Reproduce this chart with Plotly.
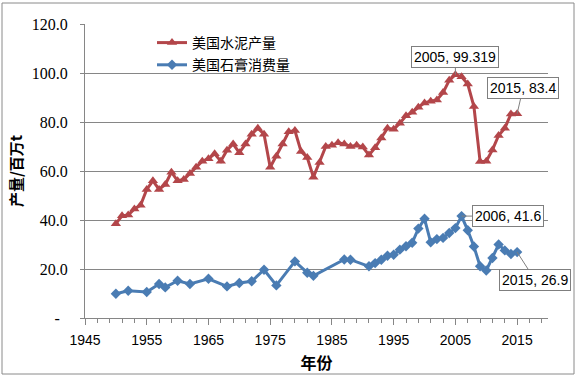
import plotly.graph_objects as go

cement_years = list(range(1950, 2016))
cement_values = [38.5, 41.7, 42.0, 44.5, 46.0, 52.5, 56.0, 52.5, 54.5, 59.5,
                 56.0, 56.5, 59.0, 61.5, 64.0, 65.0, 67.0, 64.0, 68.5, 71.0,
                 67.5, 71.0, 75.0, 77.5, 75.0, 61.5, 66.0, 71.0, 76.0, 76.5,
                 68.0, 65.5, 57.5, 63.5, 70.0, 70.5, 71.5, 71.0, 70.0, 70.5,
                 69.8, 66.5, 69.5, 73.5, 77.5, 77.0, 79.5, 82.5, 84.0, 86.0,
                 87.8, 88.5, 89.0, 92.0, 97.0, 99.319, 98.5, 95.5, 86.3, 63.9,
                 64.0, 68.6, 74.5, 77.5, 83.3, 83.4]

gypsum_years = [1950, 1952, 1955, 1957, 1958, 1960, 1962, 1965, 1968, 1970,
                1972, 1974, 1976, 1979, 1981, 1982, 1987, 1988, 1991, 1992,
                1993, 1994, 1995, 1996, 1997, 1998, 1999, 2000, 2001, 2002,
                2003, 2004, 2005, 2006, 2007, 2008, 2009, 2010, 2011, 2012,
                2013, 2014, 2015]
gypsum_values = [9.9, 11.1, 10.6, 13.9, 12.5, 15.2, 13.9, 16.0, 12.9, 14.3,
                 15.0, 19.7, 13.3, 23.1, 18.5, 17.2, 23.9, 23.8, 21.1, 22.4,
                 23.8, 25.4, 25.8, 27.9, 29.3, 30.7, 36.5, 40.5, 30.9, 32.2,
                 32.7, 34.7, 36.7, 41.6, 35.8, 29.2, 21.1, 19.4, 24.5, 30.0,
                 27.6, 26.1, 26.9]

ytick_vals = [0, 20, 40, 60, 80, 100, 120]
ytick_text = ["-  ", "20.0", "40.0", "60.0", "80.0", "100.0", "120.0"]
xtick_vals = [1945, 1955, 1965, 1975, 1985, 1995, 2005, 2015]

callouts = [
    (2005, 99.319, "2005, 99.319", 0, -18),
    (2015, 83.4, "2015, 83.4", 6, -26),
    (2006, 41.6, "2006, 41.6", 46, 0),
    (2015, 26.9, "2015, 26.9", 18, 28),
]

RED = "#B3464A"
BLUE = "#4A7CB3"

fig = go.Figure()
fig.add_trace(go.Scatter(
    x=cement_years, y=cement_values, name="美国水泥产量", mode="lines+markers",
    line=dict(color=RED, width=3),
    marker=dict(symbol="triangle-up", size=9, color=RED),
    legendgroup="a"))
fig.add_trace(go.Scatter(
    x=gypsum_years, y=gypsum_values, name="美国石膏消费量", mode="lines+markers",
    line=dict(color=BLUE, width=3),
    marker=dict(symbol="diamond", size=8, color=BLUE),
    legendgroup="b"))

for x, y, t, ax, ay in callouts:
    fig.add_annotation(x=x, y=y, text=t, showarrow=True, arrowhead=0,
                       arrowwidth=1, arrowcolor="#7f7f7f", ax=ax, ay=ay,
                       bgcolor="white", bordercolor="#7f7f7f", borderwidth=1,
                       borderpad=2,
                       font=dict(family="Liberation Sans", size=14, color="black"))

L, R, T, B = 85, 28, 24, 59
W, H = 576, 377
pw, ph = W - L - R, H - T - B

def px2paper_x(px):
    return (px - L) / pw

def px2paper_y(py):
    return (H - B - py) / ph

fig.add_shape(type="rect", xref="paper", yref="paper",
              x0=px2paper_x(2), x1=px2paper_x(574),
              y0=px2paper_y(374), y1=px2paper_y(3),
              line=dict(color="#8a8a8a", width=1), layer="below")

fig.update_layout(
    width=W, height=H,
    margin=dict(l=L, r=R, t=T, b=B),
    paper_bgcolor="white", plot_bgcolor="white",
    font=dict(family="Liberation Sans, Noto Sans CJK SC", color="black"),
    showlegend=True,
    legend=dict(x=px2paper_x(152), y=px2paper_y(27), xanchor="left", yanchor="top",
                bgcolor="rgba(0,0,0,0)", font=dict(size=14, family="Noto Sans CJK SC"),
                tracegroupgap=1, itemwidth=30),
    xaxis=dict(range=[1945, 2020], tickvals=xtick_vals, showgrid=False,
               automargin=False,
               showline=True, linecolor="#868686", linewidth=1,
               ticks="outside", ticklen=6, tickcolor="#868686",
               minor=dict(dtick=2, tick0=1945, ticks="outside", ticklen=4, tickcolor="#868686"),
               tickfont=dict(family="Liberation Sans", size=14),
               ticklabelstandoff=3,
               title=dict(text="<b>年份</b>", font=dict(size=16, family="Noto Sans CJK SC"), standoff=11),
               zeroline=False),
    yaxis=dict(range=[0, 120], tickvals=ytick_vals, ticktext=ytick_text,
               automargin=False,
               showgrid=True, gridcolor="#868686", gridwidth=1,
               showline=True, linecolor="#868686", linewidth=1,
               ticks="outside", ticklen=4, tickcolor="#868686",
               tickfont=dict(family="Liberation Serif", size=16),
               ticklabelstandoff=9,
               title=dict(text="<b>产量/百万t</b>", font=dict(size=15, family="Noto Sans CJK SC"), standoff=5),
               zeroline=False),
)

fig.write_html("out.html", config={"displayModeBar": False},
               post_script="document.body.style.margin='0';document.body.style.padding='0';")
